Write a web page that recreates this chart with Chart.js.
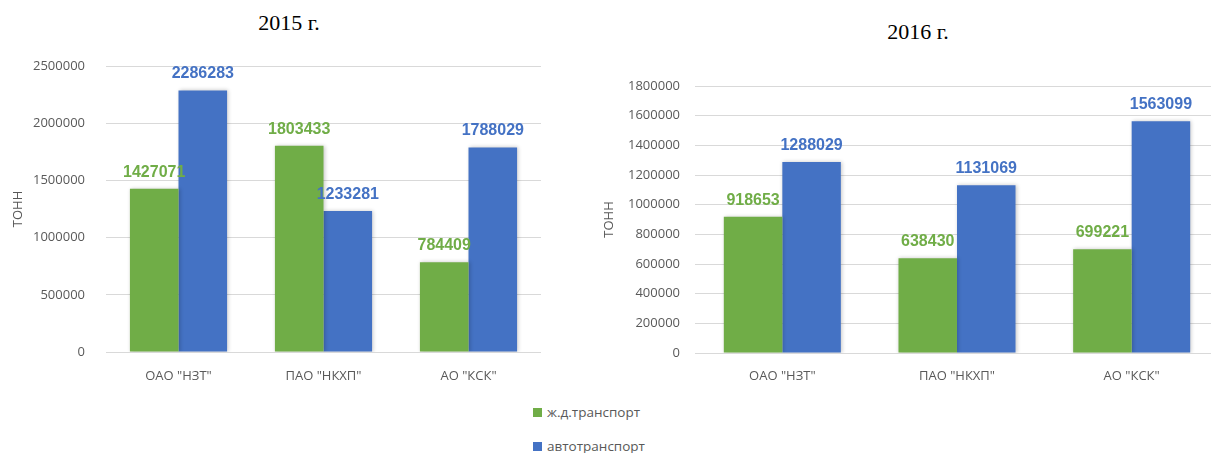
<!DOCTYPE html>
<html><head><meta charset="utf-8">
<script src="https://cdn.jsdelivr.net/npm/chart.js@4"></script>
<style>
html,body{margin:0;padding:0;background:#fff;overflow:hidden;width:1211px;height:453px;}
.box{position:absolute;}
.title{position:absolute;font-family:"Liberation Serif","Times New Roman",serif;font-size:22px;line-height:22px;color:#000;transform:translateX(-50%);white-space:nowrap;}
.leg{position:absolute;left:533px;display:flex;align-items:center;height:14px;font-family:"Open Sans",sans-serif;font-size:13.5px;color:#595959;white-space:nowrap;}
.leg .sw{width:9px;height:9px;margin-right:5px;display:inline-block}
</style></head>
<body>
<div class="title" id="t1" style="left:289px;top:12px"></div>
<div class="title" id="t2" style="left:918px;top:21px"></div>
<div class="box" style="left:0;top:0;width:560px;height:400px"><canvas id="c1"></canvas></div>
<div class="box" style="left:600px;top:0;width:625px;height:400px"><canvas id="c2"></canvas></div>
<div class="leg" style="top:405px"><span class="sw" style="background:#70AD47"></span><span id="l1"></span></div>
<div class="leg" style="top:439px"><span class="sw" style="background:#4472C4"></span><span id="l2"></span></div>
<script>
const categories = ['ОАО "НЗТ"', 'ПАО "НКХП"', 'АО "КСК"'];
const seriesNames = ['ж.д.транспорт', 'автотранспорт'];
const chartTitles = ['2015 г.', '2016 г.'];
const yAxisTitle = 'ТОНН';
const rail2015 = [1427071, 1803433, 784409];
const auto2015 = [2286283, 1233281, 1788029];
const rail2016 = [918653, 638430, 699221];
const auto2016 = [1288029, 1131069, 1563099];
const yMax2015 = 2500000, yStep2015 = 500000;
const yMax2016 = 1800000, yStep2016 = 200000;

const GREEN = '#70AD47', BLUE = '#4472C4', GRAY = '#595959';

document.getElementById('t1').textContent = chartTitles[0];
document.getElementById('t2').textContent = chartTitles[1];
document.getElementById('l1').textContent = seriesNames[0];
document.getElementById('l2').textContent = seriesNames[1];

const valueLabels = {
  id: 'valueLabels',
  beforeDatasetsDraw(chart) {
    const ctx = chart.ctx;
    ctx.save();
    ctx.shadowColor = 'rgba(0,0,0,0.22)';
    ctx.shadowBlur = 4;
    ctx.shadowOffsetX = 1;
    ctx.shadowOffsetY = 0;
  },
  afterDatasetsDraw(chart) {
    const ctx = chart.ctx;
    ctx.restore();
    ctx.save();
    ctx.font = 'bold 16px "Liberation Sans", Arial, sans-serif';
    ctx.textAlign = 'center';
    ctx.textBaseline = 'alphabetic';
    chart.data.datasets.forEach((ds, i) => {
      const meta = chart.getDatasetMeta(i);
      ctx.fillStyle = ds.backgroundColor;
      meta.data.forEach((bar, j) => {
        ctx.fillText(String(ds.data[j]), bar.x, bar.y - 12);
      });
    });
    ctx.restore();
  }
};

function makeChart(id, rail, auto, yMax, yStep, g) {
  return new Chart(document.getElementById(id), {
    type: 'bar',
    data: {
      labels: categories,
      datasets: [
        { label: seriesNames[0], data: rail, backgroundColor: GREEN, borderWidth: 0, categoryPercentage: 0.67, barPercentage: 1.0 },
        { label: seriesNames[1], data: auto, backgroundColor: BLUE, borderWidth: 0, categoryPercentage: 0.67, barPercentage: 1.0 }
      ]
    },
    options: {
      responsive: true,
      maintainAspectRatio: false,
      animation: false,
      devicePixelRatio: 1,
      layout: { padding: { top: g.top, right: g.right, left: 0, bottom: 0 } },
      plugins: { legend: { display: false }, tooltip: { enabled: false }, title: { display: false } },
      scales: {
        x: {
          grid: { display: false, drawTicks: false },
          border: { display: false },
          ticks: { color: GRAY, font: { family: '"Open Sans", sans-serif', size: 13 }, padding: g.xPad, maxRotation: 0 },
          afterFit(s) { s.height = g.xH; }
        },
        y: {
          min: 0, max: yMax,
          grid: { color: '#d9d9d9', lineWidth: 1, drawTicks: false },
          border: { display: false },
          ticks: { stepSize: yStep, color: GRAY, font: { family: '"Open Sans", sans-serif', size: 13 }, padding: g.yPad, callback: v => String(v) },
          title: { display: true, text: yAxisTitle, color: GRAY, font: { family: '"Open Sans", sans-serif', size: 13 }, padding: { top: g.tPad, bottom: 0 } },
          afterFit(s) { s.width = g.yW; }
        }
      }
    },
    plugins: [valueLabels]
  });
}

makeChart('c1', rail2015, auto2015, yMax2015, yStep2015, { top: 66, right: 19, xH: 48, yW: 106, yPad: 21, tPad: 10, xPad: 16 });
makeChart('c2', rail2016, auto2016, yMax2016, yStep2016, { top: 86, right: 6, xH: 47, yW: 95, yPad: 15, tPad: 1, xPad: 15 });
</script>
</body></html>
